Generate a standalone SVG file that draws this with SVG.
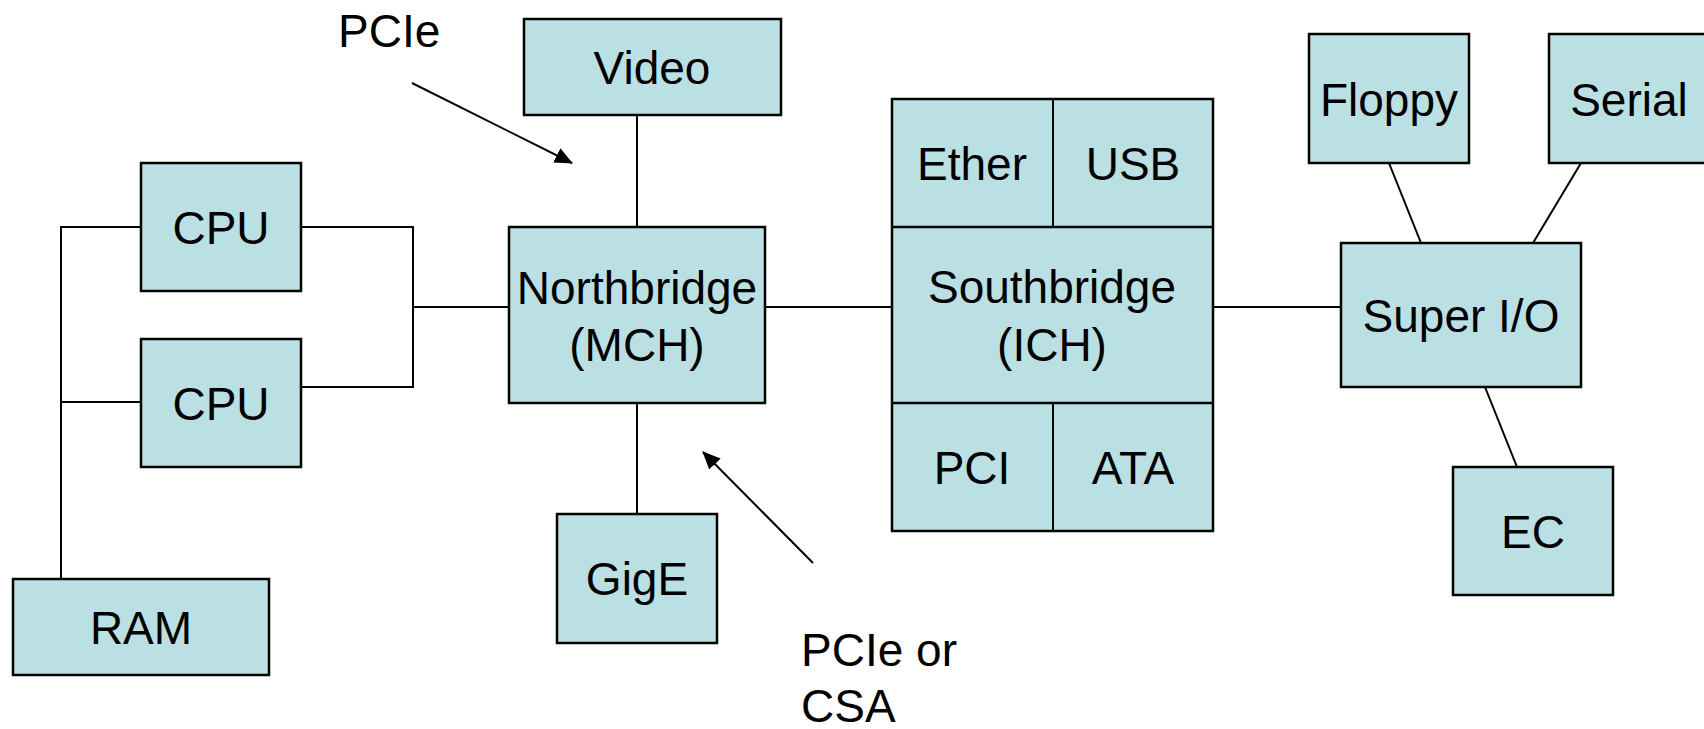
<svg xmlns="http://www.w3.org/2000/svg" width="1704" height="729" viewBox="0 0 1704 729">
  <style>
    .box { fill: #bbe0e3; stroke: #000; stroke-width: 2.5; }
    .wire { fill: none; stroke: #000; stroke-width: 2; }
    .lbl { font-family: "Liberation Sans", Arial, sans-serif; font-size: 46px; fill: #000; text-anchor: middle; }
    .note { font-family: "Liberation Sans", Arial, sans-serif; font-size: 46px; fill: #000; }
  </style>
  <defs>
    <marker id="arrow" viewBox="0 0 18 16" refX="17" refY="8" markerWidth="9" markerHeight="8" markerUnits="strokeWidth" orient="auto">
      <path d="M0,0 L18,8 L0,16 Z" fill="#000"/>
    </marker>
  </defs>
  <rect width="1704" height="729" fill="#fff"/>

  <!-- bus lines and links -->
  <g id="connectors">
    <polyline class="wire" points="141,227 61,227 61,579"/>
    <line class="wire" x1="61" y1="402" x2="141" y2="402"/>
    <polyline class="wire" points="301,227 413,227 413,387 301,387"/>
    <line class="wire" x1="413" y1="307" x2="509" y2="307"/>
    <line class="wire" x1="637" y1="115" x2="637" y2="227"/>
    <line class="wire" x1="637" y1="403" x2="637" y2="514"/>
    <line class="wire" x1="765" y1="307" x2="892" y2="307"/>
    <line class="wire" x1="1213" y1="307" x2="1341" y2="307"/>
    <line class="wire" x1="1389" y1="163" x2="1421" y2="243"/>
    <line class="wire" x1="1581" y1="163" x2="1533" y2="243"/>
    <line class="wire" x1="1485" y1="387" x2="1517" y2="467"/>
    <line class="wire" x1="412" y1="83" x2="572" y2="163" marker-end="url(#arrow)"/>
    <line class="wire" x1="813" y1="563" x2="703" y2="452" marker-end="url(#arrow)"/>
  </g>

  <g id="label-pcie">
    <text class="note" x="338" y="47">PCIe</text>
  </g>
  <g id="label-pcie-csa">
    <text class="note" x="801" y="666">PCIe or</text>
    <text class="note" x="801" y="722">CSA</text>
  </g>

  <g id="cpu1">
    <rect class="box" x="141" y="163" width="160" height="128"/>
    <text class="lbl" x="221" y="244">CPU</text>
  </g>
  <g id="cpu2">
    <rect class="box" x="141" y="339" width="160" height="128"/>
    <text class="lbl" x="221" y="420">CPU</text>
  </g>
  <g id="ram">
    <rect class="box" x="13" y="579" width="256" height="96"/>
    <text class="lbl" x="141" y="644">RAM</text>
  </g>
  <g id="video">
    <rect class="box" x="524" y="19" width="257" height="96"/>
    <text class="lbl" x="652" y="84">Video</text>
  </g>
  <g id="northbridge">
    <rect class="box" x="509" y="227" width="256" height="176"/>
    <text class="lbl" x="637" y="304">Northbridge</text>
    <text class="lbl" x="637" y="361">(MCH)</text>
  </g>
  <g id="gige">
    <rect class="box" x="557" y="514" width="160" height="129"/>
    <text class="lbl" x="637" y="595">GigE</text>
  </g>
  <g id="southbridge">
    <rect class="box" x="892" y="99" width="321" height="432"/>
    <line class="wire" x1="892" y1="227" x2="1213" y2="227" style="stroke-width:2.5"/>
    <line class="wire" x1="892" y1="403" x2="1213" y2="403" style="stroke-width:2.5"/>
    <line class="wire" x1="1053" y1="99" x2="1053" y2="227"/>
    <line class="wire" x1="1053" y1="403" x2="1053" y2="531"/>
    <text class="lbl" x="1052" y="303">Southbridge</text>
    <text class="lbl" x="1052" y="361">(ICH)</text>
  </g>
  <g id="ether">
    <text class="lbl" x="972" y="180">Ether</text>
  </g>
  <g id="usb">
    <text class="lbl" x="1133" y="180">USB</text>
  </g>
  <g id="pci">
    <text class="lbl" x="972" y="484">PCI</text>
  </g>
  <g id="ata">
    <text class="lbl" x="1133" y="484">ATA</text>
  </g>
  <g id="superio">
    <rect class="box" x="1341" y="243" width="240" height="144"/>
    <text class="lbl" x="1461" y="332">Super I/O</text>
  </g>
  <g id="floppy">
    <rect class="box" x="1309" y="34" width="160" height="129"/>
    <text class="lbl" x="1389" y="116">Floppy</text>
  </g>
  <g id="serial">
    <rect class="box" x="1549" y="34" width="160" height="129"/>
    <text class="lbl" x="1629" y="116">Serial</text>
  </g>
  <g id="ec">
    <rect class="box" x="1453" y="467" width="160" height="128"/>
    <text class="lbl" x="1533" y="548">EC</text>
  </g>
</svg>
